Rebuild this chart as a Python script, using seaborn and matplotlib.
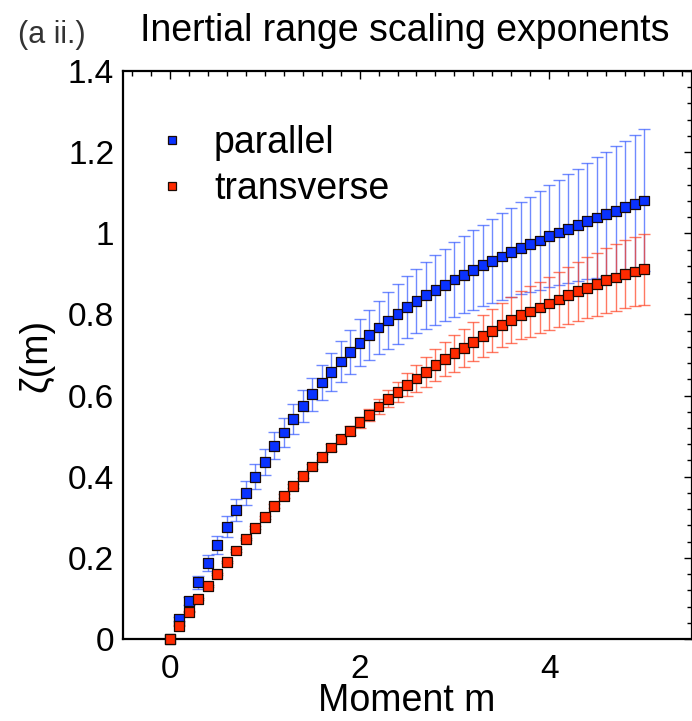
import numpy as np
import pandas as pd
import matplotlib
matplotlib.use("Agg")
import matplotlib.pyplot as plt
from matplotlib.ticker import MultipleLocator
import seaborn as sns

# Moment order m
moments = [round(0.1 * i, 1) for i in range(51)]

# Scaling exponents zeta(m) and their uncertainties
zeta_parallel = [
    0.000, 0.049, 0.094, 0.140, 0.187, 0.232, 0.277, 0.318, 0.360, 0.400,
    0.437, 0.476, 0.509, 0.543, 0.575, 0.603, 0.632, 0.659, 0.684, 0.708,
    0.730, 0.749, 0.768, 0.785, 0.802, 0.818, 0.833, 0.847, 0.860, 0.873,
    0.886, 0.898, 0.910, 0.921, 0.931, 0.943, 0.953, 0.963, 0.973, 0.982,
    0.993, 1.002, 1.011, 1.020, 1.030, 1.039, 1.047, 1.055, 1.064, 1.073,
    1.081,
]
err_parallel = [
    0.000, 0.005, 0.010, 0.016, 0.020, 0.023, 0.025, 0.027, 0.029, 0.031,
    0.032, 0.033, 0.035, 0.037, 0.039, 0.041, 0.044, 0.047, 0.050, 0.054,
    0.058, 0.062, 0.066, 0.070, 0.074, 0.077, 0.080, 0.083, 0.086, 0.089,
    0.092, 0.095, 0.098, 0.100, 0.104, 0.107, 0.110, 0.113, 0.117, 0.121,
    0.125, 0.129, 0.134, 0.138, 0.143, 0.148, 0.153, 0.159, 0.164, 0.170,
    0.175,
]
zeta_transverse = [
    0.000, 0.033, 0.067, 0.098, 0.130, 0.160, 0.190, 0.218, 0.246, 0.274,
    0.300, 0.328, 0.353, 0.378, 0.402, 0.425, 0.449, 0.472, 0.492, 0.513,
    0.534, 0.553, 0.573, 0.592, 0.609, 0.627, 0.642, 0.659, 0.675, 0.690,
    0.704, 0.718, 0.733, 0.747, 0.760, 0.774, 0.787, 0.798, 0.807, 0.817,
    0.827, 0.837, 0.847, 0.857, 0.866, 0.874, 0.884, 0.891, 0.899, 0.906,
    0.911,
]
err_transverse = [
    0.000, 0.001, 0.001, 0.002, 0.002, 0.002, 0.003, 0.003, 0.003, 0.004,
    0.004, 0.004, 0.005, 0.005, 0.006, 0.007, 0.008, 0.009, 0.010, 0.011,
    0.013, 0.015, 0.018, 0.021, 0.025, 0.029, 0.033, 0.037, 0.040, 0.042,
    0.045, 0.047, 0.049, 0.051, 0.053, 0.055, 0.057, 0.059, 0.062, 0.064,
    0.066, 0.068, 0.071, 0.073, 0.075, 0.077, 0.080, 0.082, 0.084, 0.086,
    0.088,
]

series_names = ["parallel", "transverse"]
marker_colors = {"parallel": "#0a32ff", "transverse": "#ff2a00"}
bar_colors = {"parallel": "#3358ff", "transverse": "#ff4020"}

df = pd.concat([
    pd.DataFrame({"m": moments, "zeta": zeta_parallel, "err": err_parallel,
                  "direction": "parallel"}),
    pd.DataFrame({"m": moments, "zeta": zeta_transverse, "err": err_transverse,
                  "direction": "transverse"}),
], ignore_index=True)

sns.set_theme(style="white")
plt.rcParams["font.family"] = ["Liberation Sans", "DejaVu Sans"]
plt.rcParams["text.color"] = "black"
plt.rcParams["axes.labelcolor"] = "black"

fig = plt.figure(figsize=(6.92, 7.21), dpi=100)
ax = fig.add_axes([122.5 / 692, 82 / 721, 569 / 692, 568 / 721])

# Error bars first, squares on top
for name in series_names:
    sub = df[df["direction"] == name]
    ax.errorbar(sub["m"], sub["zeta"], yerr=sub["err"], fmt="none",
                ecolor=bar_colors[name], elinewidth=1.0, capsize=4,
                capthick=1.0, alpha=0.7, zorder=2)

sns.scatterplot(data=df, x="m", y="zeta", hue="direction",
                hue_order=series_names, palette=marker_colors, marker="s",
                s=50, edgecolor="#1a0a05", linewidth=0.9, ax=ax, zorder=3,
                clip_on=False, legend=True)

ax.set_xlim(-0.5, 5.5)
ax.set_ylim(0, 1.4)
ax.set_xticks([0, 2, 4])
ax.xaxis.set_minor_locator(MultipleLocator(0.2))
ax.set_yticks([0, 0.2, 0.4, 0.6, 0.8, 1.0, 1.2, 1.4])
ax.set_yticklabels(["0", "0.2", "0.4", "0.6", "0.8", "1", "1.2", "1.4"])
ax.yaxis.set_minor_locator(MultipleLocator(0.04))

ax.tick_params(which="both", direction="in", top=True, right=True,
               colors="black", labelsize=24, width=1.0)
ax.tick_params(which="major", length=6)
ax.tick_params(which="minor", length=3.5)
ax.tick_params(axis="y", which="major", pad=6)
ax.tick_params(axis="x", which="major", pad=11)
for spine in ax.spines.values():
    spine.set_linewidth(1.6)
    spine.set_color("black")

ax.set_xlabel("Moment m", fontsize=27)
ax.xaxis.set_label_coords(0.5, -0.0775)
ax.set_ylabel("ζ(m)", fontsize=27, labelpad=10)

leg = ax.legend(loc="upper left", bbox_to_anchor=(0.054, 0.905), frameon=False,
                fontsize=27, handlelength=1.0, handletextpad=0.62,
                labelspacing=0.28, markerscale=0.8, borderpad=0,
                borderaxespad=0)
for h in leg.legend_handles:
    h.set_markeredgecolor("#1a0a05")

fig.text(18 / 692, 1 - 43 / 721, "(a ii.)", fontsize=22, color="#333333",
         ha="left", va="baseline")
fig.text(405 / 692, 1 - 41 / 721, "Inertial range scaling exponents",
         fontsize=27, ha="center", va="baseline")

fig.savefig("out.png", dpi=100)
